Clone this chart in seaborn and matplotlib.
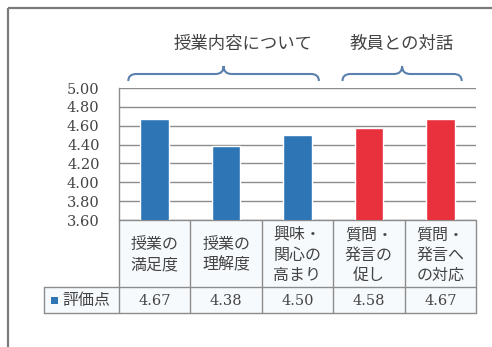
import matplotlib
matplotlib.use("Agg")
import matplotlib.pyplot as plt
import numpy as np
import pandas as pd
import seaborn as sns
from matplotlib.path import Path
from matplotlib.patches import PathPatch, Rectangle

# ---- data ----
categories = ["授業の\n満足度", "授業の\n理解度", "興味・\n関心の\n高まり",
              "質問・\n発言の\n促し", "質問・\n発言へ\nの対応"]
scores = [4.67, 4.38, 4.50, 4.58, 4.67]
groups = ["授業内容について", "授業内容について", "授業内容について",
          "教員との対話", "教員との対話"]
group_titles = ["授業内容について", "教員との対話"]
series_name = "評価点"
yticks = [3.60, 3.80, 4.00, 4.20, 4.40, 4.60, 4.80, 5.00]

# ---- styling ----
BLUE = "#2e75b6"
RED = "#e8313c"
GRID = "#8c8c8c"
TEXT = "#444444"
BRACE = "#5b80ad"
SERIF = ["DejaVu Serif"]

sns.set_style("white")
plt.rcParams["font.family"] = ["Noto Sans CJK JP", "DejaVu Sans"]

W, H = 492, 347
fig = plt.figure(figsize=(W / 100, H / 100), dpi=100)
fig.patch.set_facecolor("white")

# overlay in pixel coordinates for frame, braces and data table
ov = fig.add_axes([0, 0, 1, 1])
ov.set_xlim(0, W)
ov.set_ylim(H, 0)
ov.axis("off")
ov.patch.set_alpha(0)

# plot area (pixels)
L, R, T, B = 119, 476, 88, 220
ax = fig.add_axes([L / W, 1 - B / H, (R - L) / W, (B - T) / H])
ax.patch.set_alpha(0)

df = pd.DataFrame({"item": categories, "score": scores, "group": groups})
palette = {group_titles[0]: BLUE, group_titles[1]: RED}
sns.barplot(data=df, x="item", y="score", hue="group", palette=palette,
            width=0.4, dodge=False, legend=False, saturation=1, ax=ax,
            zorder=3)

ax.set_xlim(-0.5, len(categories) - 0.5)
ax.set_ylim(yticks[0], yticks[-1])
ax.set_yticks(yticks)
ax.set_yticklabels([f"{v:.2f}" for v in yticks], family=SERIF,
                   fontsize=10.5, color=TEXT)
ax.set_xticks([])
ax.set_xlabel("")
ax.set_ylabel("")
ax.tick_params(axis="y", length=0, pad=14)
ax.yaxis.grid(True, color=GRID, lw=1)
ax.set_axisbelow(True)
for s in ["top", "right", "bottom"]:
    ax.spines[s].set_visible(False)
ax.spines["left"].set_color(GRID)
ax.spines["left"].set_linewidth(1)

n = len(categories)
colw = (R - L) / n


def colx(i):
    return L + (i + 0.5) * colw


# ---- frame ----
ov.plot([8, W], [8, 8], color="#7a7a7a", lw=1.6, solid_capstyle="butt")
ov.plot([8, 8], [8, H], color="#7a7a7a", lw=1.6, solid_capstyle="butt")


# ---- group braces and titles ----
def brace(x0, x1, xm, yt=66, yh=74, yb=81, r=8):
    verts = [(x0, yb), (x0, yh), (x0 + r, yh),
             (xm - r, yh), (xm, yh), (xm, yt),
             (xm, yh), (xm + r, yh),
             (x1 - r, yh), (x1, yh), (x1, yb)]
    codes = [Path.MOVETO, Path.CURVE3, Path.CURVE3,
             Path.LINETO, Path.CURVE3, Path.CURVE3,
             Path.CURVE3, Path.CURVE3,
             Path.LINETO, Path.CURVE3, Path.CURVE3]
    ov.add_patch(PathPatch(Path(verts, codes), fc="none", ec=BRACE, lw=1.5))


title_x = [243, 402]
for k, g in enumerate(group_titles):
    idx = [i for i, gg in enumerate(groups) if gg == g]
    x0 = L + (idx[0] + 0.13) * colw
    x1 = L + (idx[-1] + 1 - 0.2) * colw
    brace(x0, x1, (x0 + x1) / 2)
    ov.text(title_x[k], 44, g, ha="center", va="center", fontsize=12.5,
            color=TEXT)

# ---- data table ----
LEFT_COL = 44
ROW1, ROW2, ROW3 = B, 287, 313
ov.add_patch(Rectangle((L, ROW1), R - L, ROW2 - ROW1, fc="#f7fafd", ec="none"))
ov.add_patch(Rectangle((LEFT_COL, ROW2), R - LEFT_COL, ROW3 - ROW2,
                       fc="#f7fafd", ec="none"))
ov.plot([L, R], [ROW1, ROW1], color=GRID, lw=1)
for y in (ROW2, ROW3):
    ov.plot([LEFT_COL, R], [y, y], color=GRID, lw=1)
for i in range(n + 1):
    xb = L + i * colw
    ov.plot([xb, xb], [ROW1, ROW3], color=GRID, lw=1)
ov.plot([LEFT_COL, LEFT_COL], [ROW2, ROW3], color=GRID, lw=1)

for i, (c, v) in enumerate(zip(categories, scores)):
    ov.text(colx(i), (ROW1 + ROW2) / 2 + 1.5, c, ha="center", va="center",
            fontsize=11.5, color=TEXT, linespacing=1.25)
    ov.text(colx(i), (ROW2 + ROW3) / 2 + 1, f"{v:.2f}", ha="center",
            va="center", fontsize=10.5, color=TEXT, family=SERIF)

ov.add_patch(Rectangle((51, 297), 7, 7, fc=BLUE, ec="none"))
ov.text(62, (ROW2 + ROW3) / 2 + 0.5, series_name, ha="left", va="center",
        fontsize=11.5, color=TEXT)

fig.savefig("out.png", dpi=100)
